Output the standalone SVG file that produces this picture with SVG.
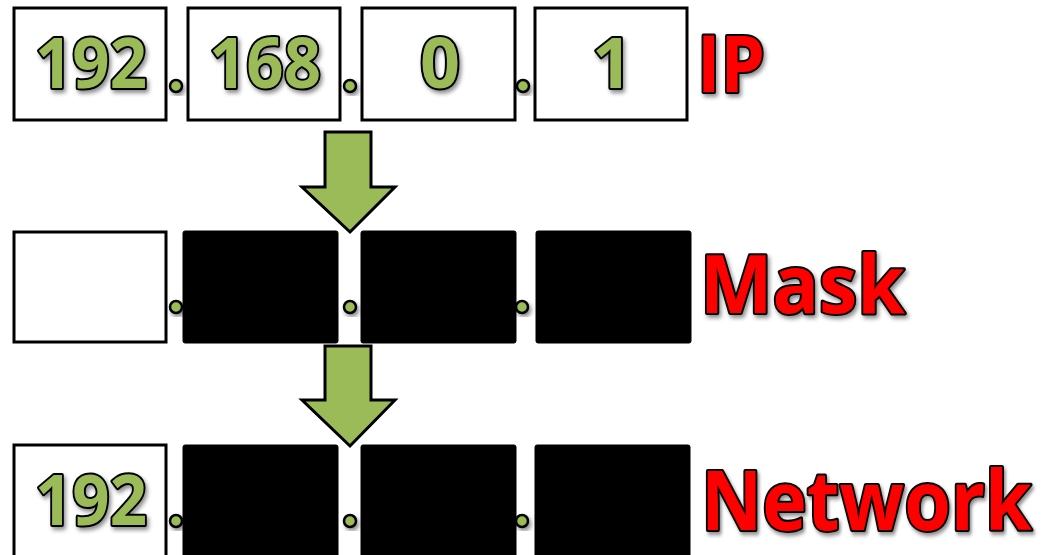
<svg xmlns="http://www.w3.org/2000/svg" width="1043" height="555" viewBox="0 0 1043 555">
<defs>
<filter id="sh" x="-20%" y="-20%" width="150%" height="150%">
<feDropShadow dx="2" dy="3" stdDeviation="2" flood-color="#000" flood-opacity="0.45"/>
</filter>
</defs>
<style>
.box{fill:#fff;stroke:#000;stroke-width:3}
.blk{fill:#000;stroke:#000;stroke-width:1}
.dot{fill:#9BBB59;stroke:#000;stroke-width:2.5}
.num{font-family:"Open Sans","Liberation Sans",sans-serif;font-weight:700;font-size:70px;fill:#9BBB59;stroke:#000;stroke-width:4;paint-order:stroke;stroke-linejoin:round;text-anchor:middle}
.lbl{font-family:"Open Sans","Liberation Sans",sans-serif;font-weight:700;fill:#FF0000;stroke:#000;stroke-width:4;paint-order:stroke;stroke-linejoin:round}
.arr{fill:#9BBB59;stroke:#000;stroke-width:3;stroke-linejoin:miter}
</style>
<rect width="1043" height="555" fill="#fff"/>
<g id="ip-row">
<g id="ip1"><rect class="box" x="14" y="8" width="152" height="112"/><text class="num" x="91" y="88" filter="url(#sh)" textLength="112" lengthAdjust="spacingAndGlyphs">192</text></g>
<g id="ip2"><rect class="box" x="188" y="8" width="152" height="112"/><text class="num" x="265" y="88" filter="url(#sh)" textLength="112" lengthAdjust="spacingAndGlyphs">168</text></g>
<g id="ip3"><rect class="box" x="362" y="8" width="153" height="112"/><text class="num" x="440" y="88" filter="url(#sh)">0</text></g>
<g id="ip4"><rect class="box" x="535" y="8" width="152" height="112"/><text class="num" x="612" y="88" filter="url(#sh)">1</text></g>
<g filter="url(#sh)"><circle class="dot" cx="176" cy="86" r="6"/><circle class="dot" cx="350" cy="86" r="6"/><circle class="dot" cx="523" cy="86" r="6"/></g>
<text id="ip-label" class="lbl" x="697" y="92" font-size="78" filter="url(#sh)" textLength="68" lengthAdjust="spacingAndGlyphs">IP</text>
</g>
<g id="mask-row">
<g id="m1"><rect class="box" x="14" y="232" width="152" height="110"/></g>
<g id="m2"><rect class="blk" x="183" y="231" width="155" height="112" rx="2"/></g>
<g id="m3"><rect class="blk" x="361" y="231" width="155" height="112" rx="2"/></g>
<g id="m4"><rect class="blk" x="536" y="231" width="155" height="112" rx="2"/></g>
<g filter="url(#sh)"><circle class="dot" cx="176" cy="307" r="6"/><circle class="dot" cx="350" cy="307" r="6"/><circle class="dot" cx="522" cy="307" r="6"/></g>
<text id="mask-label" class="lbl" x="700" y="313" font-size="80" filter="url(#sh)" textLength="205" lengthAdjust="spacingAndGlyphs">Mask</text>
</g>
<g id="net-row">
<g id="n1"><rect class="box" x="14" y="445" width="152" height="115"/><text class="num" x="91" y="525" filter="url(#sh)" textLength="112" lengthAdjust="spacingAndGlyphs">192</text></g>
<g id="n2"><rect class="blk" x="183" y="445" width="155" height="115" rx="2"/></g>
<g id="n3"><rect class="blk" x="361" y="445" width="155" height="115" rx="2"/></g>
<g id="n4"><rect class="blk" x="535" y="445" width="155" height="115" rx="2"/></g>
<g filter="url(#sh)"><circle class="dot" cx="176" cy="521" r="6"/><circle class="dot" cx="350" cy="521" r="6"/><circle class="dot" cx="522" cy="521" r="6"/></g>
<text id="net-label" class="lbl" transform="translate(701 530) scale(0.92 1)" x="0" y="0" font-size="82" filter="url(#sh)">Network</text>
</g>
<g id="connectors">
<path class="arr" d="M325 132 H371 V187 H395 L350 232 L302 187 H325 Z"/>
<path class="arr" d="M325 346 H371 V400 H395 L350 446 L302 400 H325 Z"/>
</g>
</svg>
